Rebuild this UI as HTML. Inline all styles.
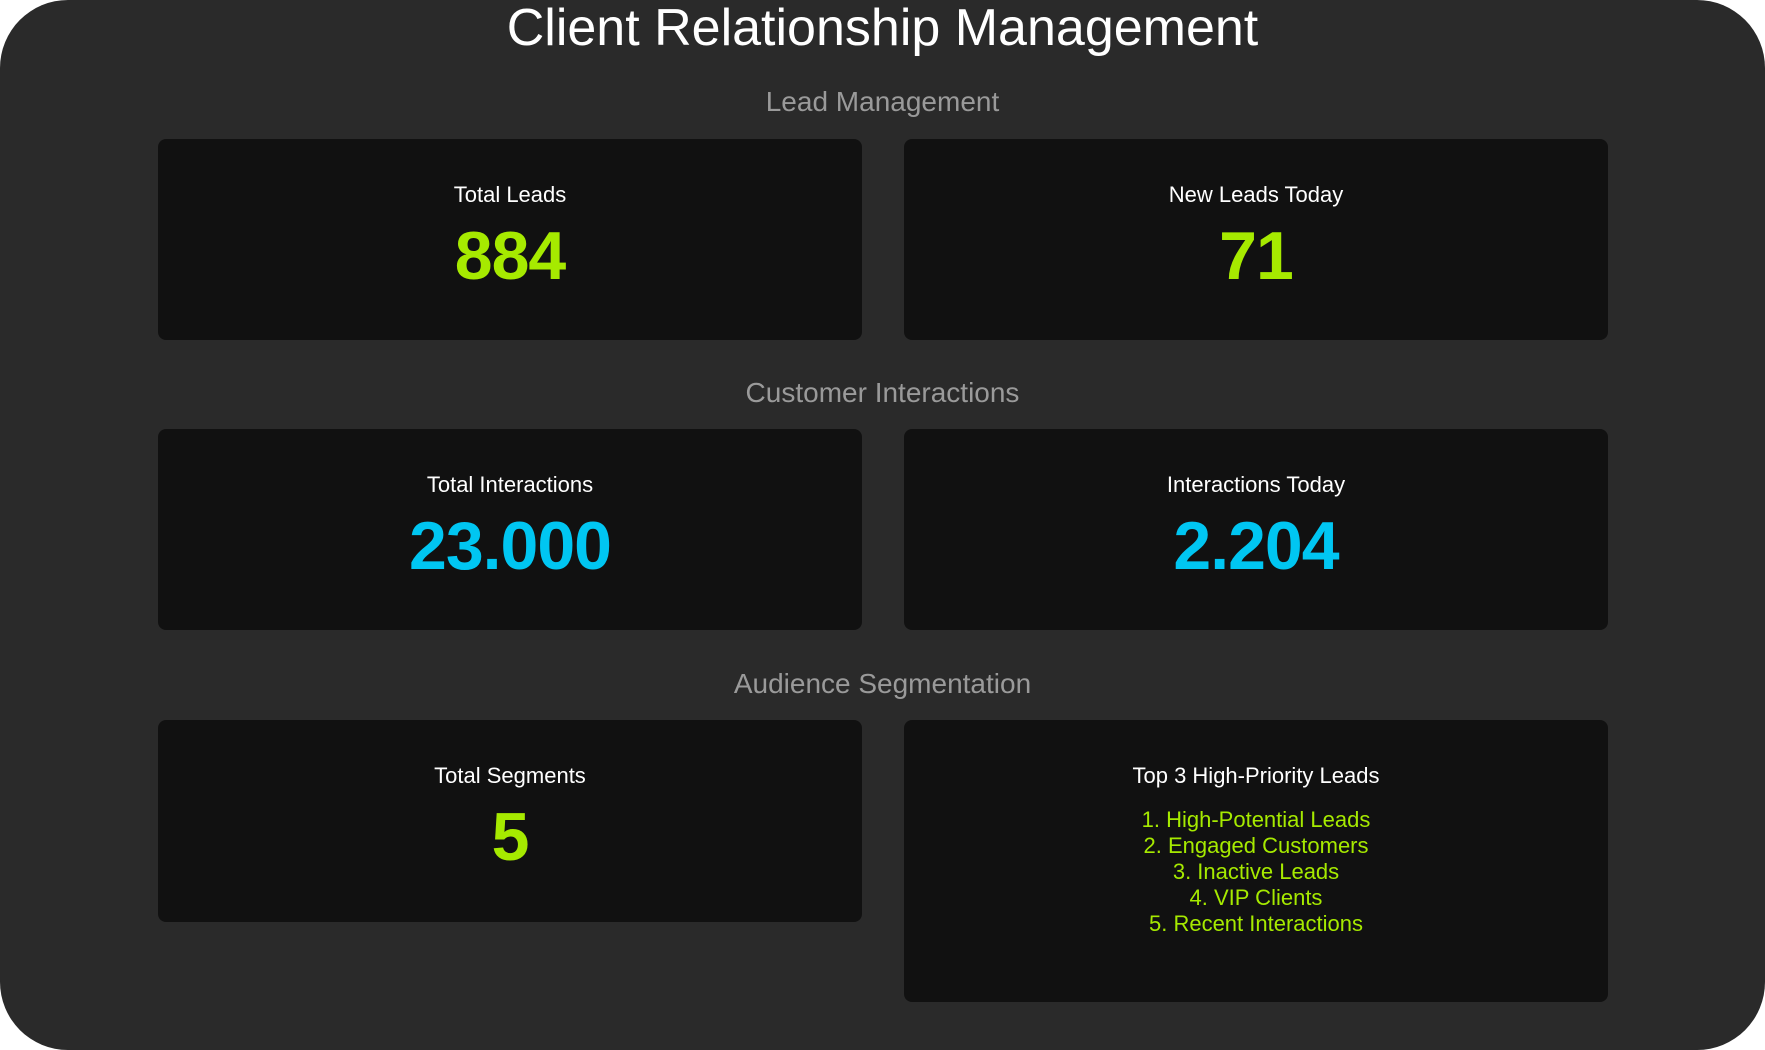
<!DOCTYPE html>
<html><head><meta charset="utf-8"><style>
html,body{margin:0;padding:0;background:#fff;}
body{width:1765px;height:1050px;position:relative;overflow:hidden;font-family:"Liberation Sans",sans-serif;}
.panel{position:absolute;left:0;top:0;width:1765px;height:1050px;background:#2a2a2a;border-radius:68px;}
.t{position:absolute;left:0;width:1765px;text-align:center;}
.title{top:0;font-size:52px;color:#fff;line-height:56px;}
.sec{font-size:28px;color:#9a9a9a;line-height:30px;}
.card{position:absolute;background:#111;border-radius:8px;text-align:center;color:#fff;}
.lbl{position:absolute;left:0;right:0;top:43px;font-size:22px;line-height:26px;}
.val{position:absolute;left:0;right:0;top:74px;font-size:68px;font-weight:bold;line-height:86px;letter-spacing:-1px;}
.g{color:#a6ea00}.c{color:#00c6f2}
.list{position:absolute;left:0;right:0;top:87px;font-size:22px;line-height:26px;color:#a6ea00;}
</style></head><body>
<div class="panel"></div>
<div class="t title">Client Relationship Management</div>
<div class="t sec" style="top:87px">Lead Management</div>
<div class="t sec" style="top:378px">Customer Interactions</div>
<div class="t sec" style="top:669px">Audience Segmentation</div>

<div class="card" style="left:158px;top:139px;width:704px;height:201px"><div class="lbl">Total Leads</div><div class="val g">884</div></div>
<div class="card" style="left:904px;top:139px;width:704px;height:201px"><div class="lbl">New Leads Today</div><div class="val g">71</div></div>
<div class="card" style="left:158px;top:429px;width:704px;height:201px"><div class="lbl">Total Interactions</div><div class="val c">23.000</div></div>
<div class="card" style="left:904px;top:429px;width:704px;height:201px"><div class="lbl">Interactions Today</div><div class="val c">2.204</div></div>
<div class="card" style="left:158px;top:720px;width:704px;height:202px"><div class="lbl">Total Segments</div><div class="val g">5</div></div>
<div class="card" style="left:904px;top:720px;width:704px;height:282px"><div class="lbl">Top 3 High-Priority Leads</div>
<div class="list">1. High-Potential Leads<br>2. Engaged Customers<br>3. Inactive Leads<br>4. VIP Clients<br>5. Recent Interactions</div></div>
</body></html>
